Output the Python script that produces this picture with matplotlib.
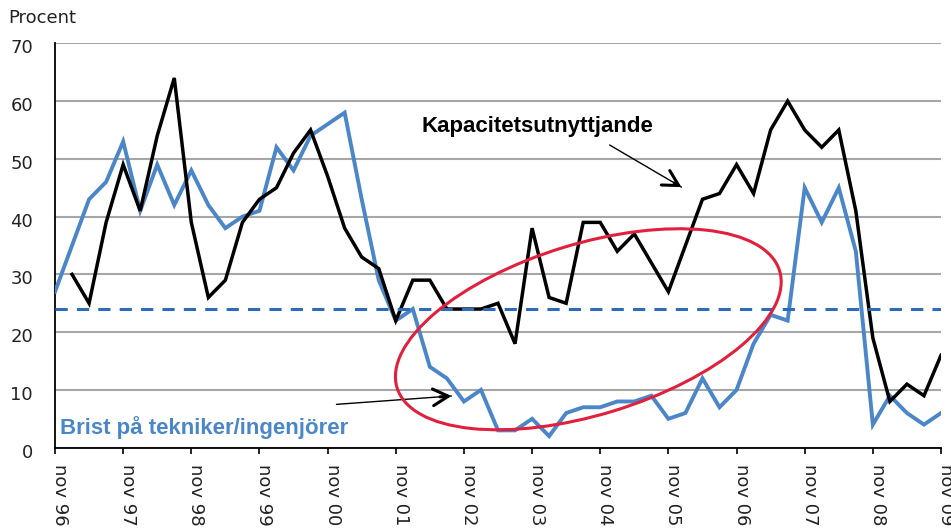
import numpy as np
import matplotlib
matplotlib.use("Agg")
import matplotlib.pyplot as plt
from matplotlib.patches import Ellipse
from matplotlib.transforms import IdentityTransform, ScaledTranslation

# quarterly observations, nov 96 .. nov 09
quarters = np.arange(53)
brist = [27, 35, 43, 46, 53, 41, 49, 42, 48, 42,
         38, 40, 41, 52, 48, 54, 56, 58, 43, 29,
         22, 24, 14, 12, 8, 10, 3, 3, 5, 2,
         6, 7, 7, 8, 8, 9, 5, 6, 12, 7,
         10, 18, 23, 22, 45, 39, 45, 34, 4, 9,
         6, 4, 6]
kapacitet = [np.nan, 30, 25, 39, 49, 41, 54, 64, 39, 26,
             29, 39, 43, 45, 51, 55, 47, 38, 33, 31,
             22, 29, 29, 24, 24, 24, 25, 18, 38, 26,
             25, 39, 39, 34, 37, 32, 27, 35, 43, 44,
             49, 44, 55, 60, 55, 52, 55, 41, 19, 8,
             11, 9, 16]
average = 24
tick_pos = np.arange(0, 53, 4)
tick_labels = ["nov 96", "nov 97", "nov 98", "nov 99", "nov 00", "nov 01", "nov 02",
               "nov 03", "nov 04", "nov 05", "nov 06", "nov 07", "nov 08", "nov 09"]

blue = "#4A86C8"
fig = plt.figure(figsize=(9.51, 5.31), dpi=100)
ax = fig.add_axes([55 / 951, 1 - 447.7 / 531, 886 / 951, 404.4 / 531])

ax.plot(quarters, brist, color=blue, lw=2.8, solid_joinstyle="miter", zorder=3)
ax.plot(quarters, kapacitet, color="black", lw=2.5, solid_joinstyle="miter", zorder=4)
ax.axhline(average, color="#2E6BB8", lw=2.2, linestyle=(0, (4, 3)), zorder=5)

ax.set_xlim(0, 52)
ax.set_ylim(0, 70)
ax.set_yticks(range(0, 71, 10))
ax.yaxis.grid(True, color="#A6A6A6", lw=1.5)
ax.set_axisbelow(True)
for s in ["top", "right"]:
    ax.spines[s].set_visible(False)
ax.spines["left"].set_linewidth(1.3)
ax.spines["bottom"].set_linewidth(1.3)

ax.tick_params(axis="y", length=0, pad=15.8, labelsize=13, labelcolor="#222222")
ax.tick_params(axis="x", length=4, width=1.2, pad=8, labelsize=13, labelcolor="#222222")
ax.set_xticks(tick_pos)
ax.set_xticklabels(tick_labels, rotation=-90, ha="left", va="top")
for lab in ax.get_xticklabels():
    lab.set_transform(lab.get_transform() + ScaledTranslation(-4 / 100, 0, fig.dpi_scale_trans))
for lab in ax.get_yticklabels():
    lab.set_transform(lab.get_transform() + ScaledTranslation(0, -3 / 100, fig.dpi_scale_trans))

fig.text(8 / 951, 1 - 18 / 531, "Procent", fontsize=13, ha="left", va="center", color="#222222")

# annotations
ax.text(21.5, 54.6, "Kapacitetsutnyttjande", fontsize=16, fontweight="bold",
        family="Liberation Sans", ha="left", va="baseline", color="black", zorder=6)
ax.text(0.29, 2.4, "Brist på tekniker/ingenjörer", fontsize=16, fontweight="bold",
        family="Liberation Sans", ha="left", va="baseline", color=blue, zorder=6)


def arrow(start, tip):
    ax.annotate("", xy=tip, xytext=start,
                arrowprops=dict(arrowstyle="-", lw=1.0, color="black", shrinkA=0, shrinkB=0))
    back = (tip[0] - 0.1 * (tip[0] - start[0]), tip[1] - 0.1 * (tip[1] - start[1]))
    ax.annotate("", xy=tip, xytext=back,
                arrowprops=dict(arrowstyle="->,head_length=0.55,head_width=0.3", lw=2.2,
                                color="black", shrinkA=0, shrinkB=0, mutation_scale=20))


arrow((32.55, 52.4), (36.77, 45.1))
arrow((16.52, 7.5), (23.27, 8.95))

# red ellipse
cx, cy = ax.transData.transform((31.3, 20.5))
ell = Ellipse((cx, cy), 400, 171, angle=17, fill=False, edgecolor="#E0203C", lw=2.2,
              transform=IdentityTransform(), zorder=10)
fig.add_artist(ell)

fig.savefig("out.png", dpi=100)
